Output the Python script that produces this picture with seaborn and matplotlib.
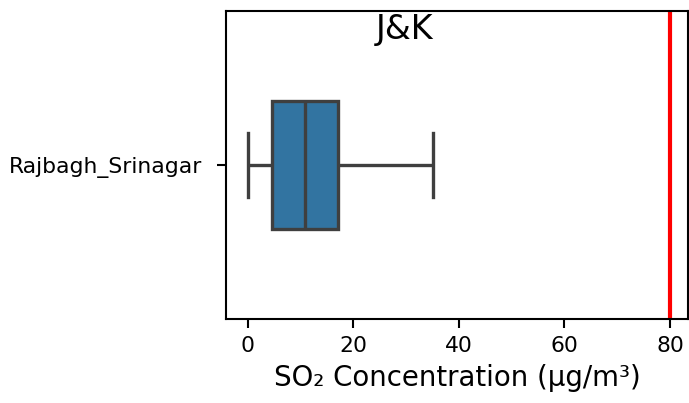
import matplotlib
matplotlib.use('Agg')
import matplotlib.pyplot as plt
import pandas as pd
import seaborn as sns

# five-number summary (min, q1, median, q3, max)
STATION    = 'Rajbagh_Srinagar'
SO2_VALUES = [0.0, 4.66, 10.85, 17.1, 35.1]
LIMIT      = 80
STATE      = 'J&K'

df = pd.DataFrame({'station': [STATION] * len(SO2_VALUES), 'so2': SO2_VALUES})

plt.rcParams['axes.linewidth'] = 1.0
plt.rcParams['xtick.major.size'] = 4.5
plt.rcParams['ytick.major.size'] = 4.5
plt.rcParams['xtick.major.width'] = 1.0
plt.rcParams['ytick.major.width'] = 1.0

fig = plt.figure(figsize=(689 / 150, 403 / 150), dpi=150)
ax = fig.add_axes([0.3276, 0.2072, 0.671, 0.7655])

sns.boxplot(data=df, x='so2', y='station', orient='h', width=0.415,
            linewidth=1.6, ax=ax)
ax.axvline(LIMIT, color='red', linewidth=2)

ax.set_xlim(-4.17, 83.4)
ax.set_xticks([0, 20, 40, 60, 80])
ax.tick_params(axis='both', labelsize=10.5)
ax.tick_params(axis='y', pad=7)
ax.set_ylabel('')
ax.set_xlabel('SO\u2082 Concentration (\u00b5g/m\u00b3)', fontsize=13.25)
ax.text(0.386, 0.908, STATE, transform=ax.transAxes, ha='center',
        va='baseline', fontsize=16)

plt.savefig('out.png', dpi=150)
